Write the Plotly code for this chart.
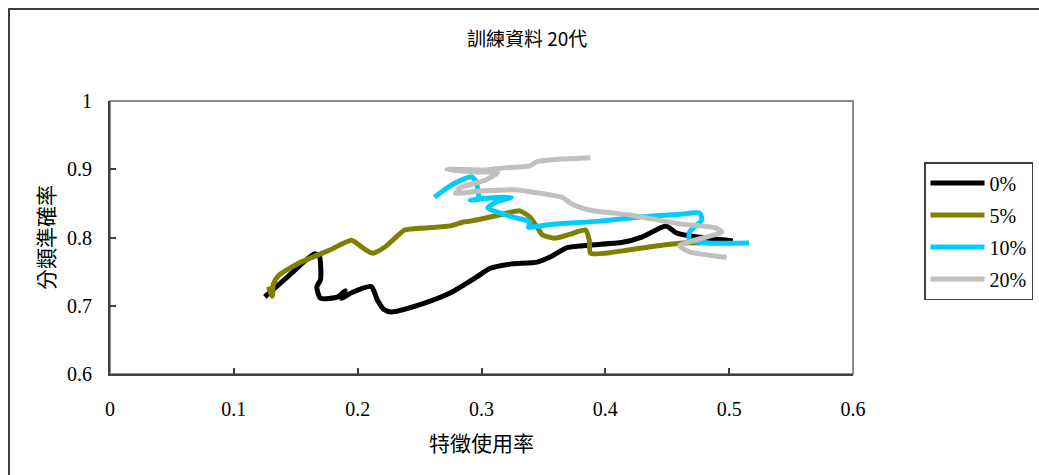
import plotly.graph_objects as go

# Feature usage rate (x) vs. classification accuracy (y) per noise level
series_names = ["0%", "5%", "10%", "20%"]
series_colors = ["#000000", "#808000", "#00CCFF", "#C0C0C0"]

x_0 = [0.125, 0.145, 0.165, 0.169, 0.170, 0.167, 0.170, 0.184, 0.190, 0.187,
       0.195, 0.211, 0.216, 0.221, 0.227, 0.254, 0.275, 0.296, 0.307, 0.323,
       0.345, 0.355, 0.369, 0.382, 0.414, 0.430, 0.449, 0.457, 0.473, 0.503]
y_0 = [0.713, 0.745, 0.776, 0.773, 0.738, 0.728, 0.711, 0.713, 0.722, 0.711,
       0.719, 0.728, 0.708, 0.695, 0.691, 0.704, 0.719, 0.742, 0.755, 0.761,
       0.764, 0.771, 0.785, 0.788, 0.793, 0.801, 0.817, 0.807, 0.801, 0.795]

x_5 = [0.128, 0.131, 0.132, 0.136, 0.153, 0.178, 0.195, 0.204, 0.212, 0.222,
       0.233, 0.238, 0.254, 0.275, 0.286, 0.291, 0.307, 0.321, 0.331, 0.339,
       0.345, 0.349, 0.359, 0.372, 0.384, 0.387, 0.388, 0.400, 0.420, 0.447,
       0.463, 0.477]
y_5 = [0.728, 0.714, 0.732, 0.744, 0.763, 0.782, 0.796, 0.785, 0.777, 0.786,
       0.804, 0.811, 0.814, 0.817, 0.823, 0.824, 0.830, 0.836, 0.839, 0.830,
       0.815, 0.804, 0.799, 0.805, 0.811, 0.796, 0.777, 0.777, 0.782, 0.789,
       0.792, 0.792]

x_10 = [0.262, 0.275, 0.286, 0.292, 0.296, 0.297, 0.298, 0.291, 0.307, 0.324,
        0.311, 0.305, 0.315, 0.327, 0.339, 0.338, 0.347, 0.363, 0.396, 0.428,
        0.460, 0.476, 0.478, 0.468, 0.468, 0.481, 0.516]
y_10 = [0.859, 0.876, 0.886, 0.889, 0.881, 0.867, 0.856, 0.855, 0.858, 0.859,
        0.851, 0.843, 0.836, 0.829, 0.823, 0.815, 0.817, 0.820, 0.824, 0.830,
        0.834, 0.836, 0.826, 0.808, 0.796, 0.792, 0.792]

x_20 = [0.388, 0.365, 0.345, 0.339, 0.319, 0.303, 0.275, 0.272, 0.295, 0.313,
        0.303, 0.283, 0.279, 0.299, 0.327, 0.347, 0.365, 0.373, 0.388, 0.420,
        0.460, 0.489, 0.494, 0.472, 0.460, 0.468, 0.498]
y_20 = [0.917, 0.915, 0.911, 0.905, 0.902, 0.899, 0.900, 0.899, 0.896, 0.895,
        0.884, 0.873, 0.865, 0.868, 0.870, 0.865, 0.859, 0.849, 0.840, 0.833,
        0.820, 0.814, 0.808, 0.796, 0.788, 0.779, 0.771]

xs = [x_0, x_5, x_10, x_20]
ys = [y_0, y_5, y_10, y_20]

x_ticks = [0, 0.1, 0.2, 0.3, 0.4, 0.5, 0.6]
x_tick_text = ["0", "0.1", "0.2", "0.3", "0.4", "0.5", "0.6"]
y_ticks = [0.6, 0.7, 0.8, 0.9, 1.0]
y_tick_text = ["0.6", "0.7", "0.8", "0.9", "1"]

title_text = "訓練資料 20代"
x_title = "特徵使用率"
y_title = "分類準確率"

serif = "Liberation Serif, Times New Roman, serif"
cjk = "Noto Sans CJK TC, Noto Sans CJK SC, sans-serif"

fig = go.Figure()
for name, color, x, y in zip(series_names, series_colors, xs, ys):
    fig.add_trace(go.Scatter(
        x=x, y=y, name=name, mode="lines", legendgroup=name,
        line=dict(color=color, width=5, shape="spline", smoothing=0.6),
    ))

W, H = 1039, 475
L, R, T, B = 110, 186, 101, 101
pw, ph = W - L - R, H - T - B


def px_x(p):
    return (p - L) / pw


def px_y(p):
    return (H - B - p) / ph


axis_common = dict(
    showgrid=False, zeroline=False, showline=True, linecolor="#404040",
    linewidth=2, ticks="inside", ticklen=6, tickwidth=1.5, tickcolor="#404040",
    tickfont=dict(family=serif, size=20, color="#000000"),
)

fig.update_layout(
    width=W, height=H, autosize=False,
    margin=dict(l=L, r=R, t=T, b=B, autoexpand=False),
    paper_bgcolor="white", plot_bgcolor="white",
    xaxis=dict(range=[0, 0.6], tickvals=x_ticks, ticktext=x_tick_text,
               ticklabelstandoff=16, **axis_common),
    yaxis=dict(range=[0.6, 1.0], tickvals=y_ticks, ticktext=y_tick_text,
               ticklabelstandoff=12, **axis_common),
    showlegend=True,
    legend=dict(
        xref="container", yref="container",
        x=924 / W, y=1 - 162 / H, xanchor="left", yanchor="top",
        bordercolor="#404040", borderwidth=1.5, bgcolor="white",
        font=dict(family=serif, size=20, color="#000000"),
        tracegroupgap=3, itemwidth=54,
    ),
)

# plot-area frame and outer chart border
fig.add_shape(type="rect", xref="paper", yref="paper", x0=0, x1=1, y0=0, y1=1,
              line=dict(color="#8c8c8c", width=2), layer="below")
fig.add_shape(type="rect", xref="paper", yref="paper",
              x0=px_x(9), x1=px_x(1100), y0=px_y(9), y1=px_y(520),
              line=dict(color="#404040", width=2), layer="below")

fig.add_annotation(text=title_text, xref="paper", yref="paper",
                   x=px_x(527), y=px_y(38), showarrow=False,
                   xanchor="center", yanchor="middle",
                   font=dict(family=cjk, size=19, color="#000000"))
fig.add_annotation(text=x_title, xref="paper", yref="paper",
                   x=px_x(481), y=px_y(442), showarrow=False,
                   xanchor="center", yanchor="middle",
                   font=dict(family=cjk, size=21, color="#000000"))
fig.add_annotation(text=y_title, xref="paper", yref="paper",
                   x=px_x(45), y=px_y(238), showarrow=False, textangle=-90,
                   xanchor="center", yanchor="middle",
                   font=dict(family=cjk, size=21, color="#000000"))

fig.write_html("out.html")
